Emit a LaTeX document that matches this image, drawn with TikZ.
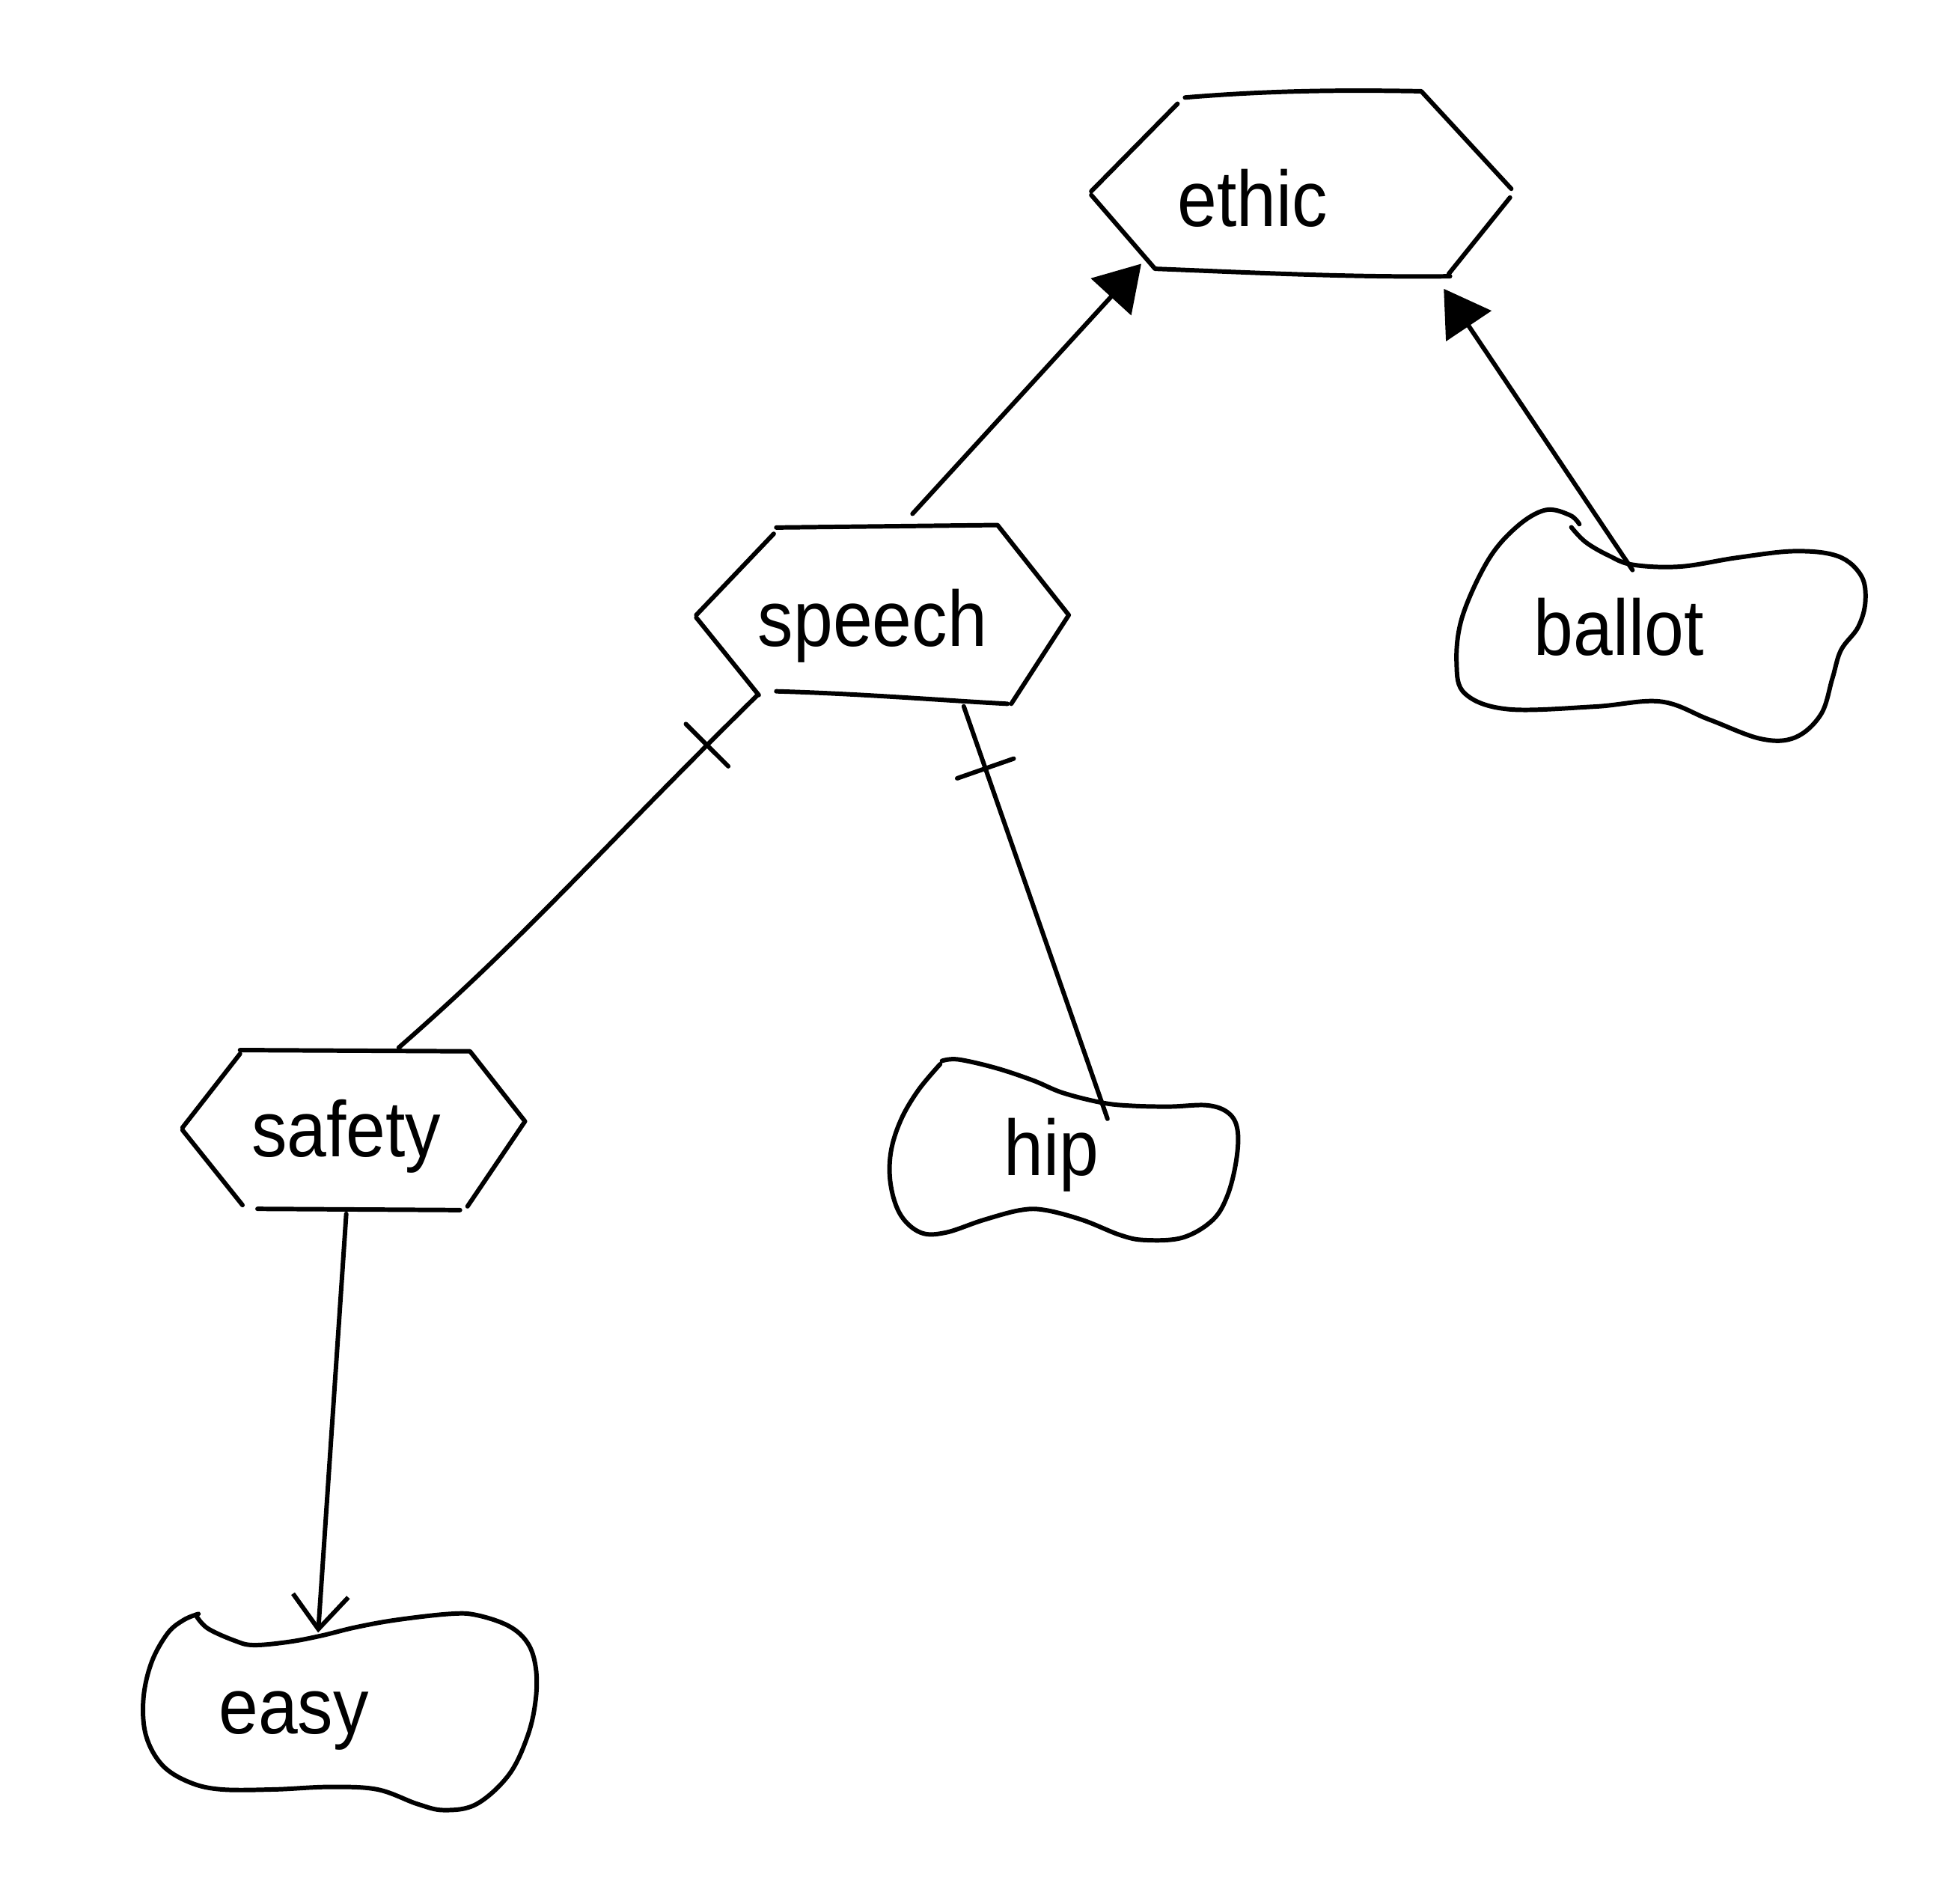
\documentclass[tikz,border=0pt]{standalone}
\usepackage{fontspec}
\setmainfont{Liberation Sans}[FakeStretch=0.9]
\usetikzlibrary{arrows.meta,decorations.markings,calc}

\tikzset{
  inkline/.style={line width=1.7pt, line cap=round, line join=round},
  word/.style={anchor=base, inner sep=0pt, font=\fontsize{30}{36}\selectfont},
  solidhead/.style={-{Triangle[length=0.6cm,width=0.72cm]}},
  openhead/.style={-{Straight Barb[length=0.45cm,width=0.74cm]}},
  tickat/.style={postaction={decorate},
    decoration={markings, mark=at position #1 with {\draw[inkline] (0,-0.4cm) -- (0,0.4cm);}}},
}

\begin{document}
\begin{tikzpicture}[x=0.016703cm, y=-0.016703cm, inkline]
\fill[white] (0,0) rectangle (1568,1523);
\useasboundingbox (0,0) rectangle (1568,1523);

% ---- hexagon: ethic
\draw (873,153) -- (942,83);
\draw (948,78) .. controls (1020,72) and (1080,72) .. (1137,73) -- (1209,151);
\draw (1208,158) -- (1159,219);
\draw (1160,221) .. controls (1080,222) and (1000,218) .. (924,215) -- (873,156);
\node[word] (ethic) at (1002,181) {ethic};

% ---- hexagon: speech
\draw (557,492) -- (619,427);
\draw (621,422) -- (798,420) -- (855,492) -- (809,563);
\draw (621,553) .. controls (690,555) and (750,560) .. (806,563);
\draw (557,494) -- (607,556);
\node[word] (speech) at (698,517) {speech};

% ---- hexagon: safety
\draw (146,902) -- (192,843);
\draw (192,840) -- (376,841) -- (420,897) -- (374,965);
\draw (206,967) -- (368,968);
\draw (146,904) -- (194,964);
\node[word] (safety) at (277,925) {safety};

% ---- blob: hip
\begin{scope}[shift={(706.6,832.3)}, xscale=0.1996, yscale=0.1996]
\draw plot[smooth, tension=0.6] coordinates {
  (235,82) (300,76) (450,110) (600,160) (720,210) (880,250) (1000,262)
  (1150,265) (1300,260) (1385,292) (1420,360) (1415,480) (1380,620)
  (1320,720) (1200,790) (1050,800) (950,780) (800,720) (650,680) (550,680)
  (400,720) (250,770) (150,770) (70,700) (30,580) (30,450) (70,320)
  (140,200) (228,95)};
\end{scope}
\node[word] (hip) at (841,940) {hip};

% ---- blob: ballot
\begin{scope}[shift={(1137.7,386.4)}, xscale=0.2295, yscale=0.2056]
\draw plot[smooth, tension=0.6] coordinates {
  (520,172) (570,230) (650,282) (735,318) (900,325) (1100,290) (1300,265)
  (1450,285) (1530,360) (1545,460) (1520,560) (1460,650) (1430,760)
  (1390,900) (1300,990) (1180,995) (1000,920) (830,850) (600,870)
  (300,880) (150,820) (120,700) (140,520) (230,300) (330,170) (430,105)
  (515,125) (548,160)};
\end{scope}
\node[word] (ballot) at (1295,524) {ballot};

% ---- blob: easy
\begin{scope}[shift={(101.8,1271.5)}, xscale=0.215, yscale=0.195]
\draw plot[smooth, tension=0.6] coordinates {
  (258,110) (300,160) (400,210) (470,228) (600,215) (720,190) (850,155)
  (1000,125) (1200,100) (1300,105) (1420,150) (1490,220) (1520,320)
  (1520,450) (1490,600) (1420,760) (1300,880) (1180,905) (1080,880)
  (930,820) (750,810) (550,820) (350,820) (230,790) (130,720) (70,600)
  (60,450) (90,300) (150,180) (210,125) (265,100)};
\end{scope}
\node[word] (easy) at (235,1387) {easy};

% ---- connector end points on the outlines
\coordinate (ethic-in1) at (913,211);
\coordinate (ethic-in2) at (1155,231);
\coordinate (speech-top) at (730,411);
\coordinate (speech-bl) at (606,556);
\coordinate (speech-br) at (771,565);
\coordinate (safety-top) at (319,838);
\coordinate (safety-bot) at (277,971);
\coordinate (hip-top) at (886,895);
\coordinate (ballot-top) at (1306,456);
\coordinate (easy-top) at (254.5,1306);

% ---- connectors
\draw[solidhead] (speech-top) -- (ethic-in1);
\draw[solidhead] (ballot-top) -- (ethic-in2);
\draw[tickat=0.95cm] (speech-bl) .. controls (480,680) and (420,750) .. (safety-top);
\draw[tickat=0.88cm] (speech-br) -- (hip-top);
\draw[openhead] (safety-bot) -- (easy-top);
\end{tikzpicture}
\end{document}
